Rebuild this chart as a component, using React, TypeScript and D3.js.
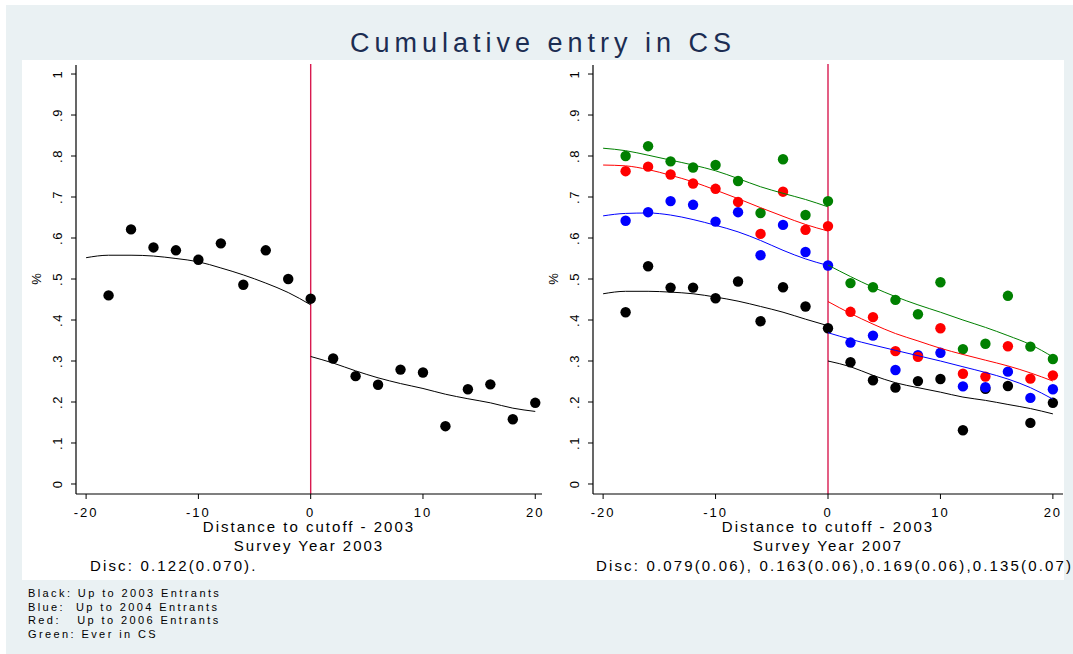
import React from "react";
import * as d3 from "d3";

const W = 1073;
const H = 654;

// Bin midpoints (distance to cutoff)
const binX = [-18, -16, -14, -12, -10, -8, -6, -4, -2, 0, 2, 4, 6, 8, 10, 12, 14, 16, 18, 20];

// Survey year 2003: share of entrants up to 2003
const left2003 = [0.46, 0.621, 0.577, 0.57, 0.547, 0.587, 0.486, 0.57, 0.5, 0.452, 0.306, 0.263, 0.242, 0.279, 0.272, 0.141, 0.231, 0.243, 0.158, 0.198];

// Survey year 2007 series
const rightBlack = [0.419, 0.531, 0.479, 0.479, 0.453, 0.494, 0.397, 0.48, 0.433, 0.38, 0.297, 0.253, 0.235, 0.251, 0.256, 0.131, 0.232, 0.239, 0.149, 0.198];
const rightBlue = [0.642, 0.663, 0.69, 0.681, 0.64, 0.663, 0.558, 0.632, 0.566, 0.533, 0.345, 0.362, 0.278, 0.314, 0.32, 0.238, 0.236, 0.274, 0.21, 0.231];
const rightRed = [0.763, 0.774, 0.755, 0.733, 0.72, 0.688, 0.61, 0.713, 0.62, 0.629, 0.42, 0.407, 0.324, 0.31, 0.38, 0.269, 0.262, 0.336, 0.257, 0.265];
const rightGreen = [0.8, 0.824, 0.787, 0.772, 0.778, 0.739, 0.661, 0.792, 0.656, 0.69, 0.49, 0.48, 0.449, 0.414, 0.492, 0.329, 0.342, 0.459, 0.335, 0.305];

// Fitted curves, evaluated on each side of the cutoff
const fitXBefore = [-20, -18, -16, -14, -12, -10, -8, -6, -4, -2, 0];
const fitXAfter = [0, 2, 4, 6, 8, 10, 12, 14, 16, 18, 20];

const leftFitBefore = [0.552, 0.558, 0.558, 0.556, 0.55, 0.542, 0.527, 0.51, 0.49, 0.467, 0.437];
const leftFitAfter = [0.311, 0.295, 0.276, 0.259, 0.245, 0.233, 0.219, 0.208, 0.198, 0.185, 0.177];

const blackFitBefore = [0.464, 0.47, 0.47, 0.468, 0.464, 0.456, 0.446, 0.433, 0.419, 0.402, 0.386];
const blackFitAfter = [0.3, 0.286, 0.265, 0.247, 0.235, 0.224, 0.212, 0.204, 0.194, 0.184, 0.171];
const blueFitBefore = [0.654, 0.66, 0.661, 0.656, 0.645, 0.631, 0.615, 0.594, 0.57, 0.549, 0.533];
const blueFitAfter = [0.369, 0.353, 0.339, 0.326, 0.313, 0.3, 0.286, 0.272, 0.256, 0.235, 0.207];
const redFitBefore = [0.778, 0.776, 0.767, 0.753, 0.737, 0.717, 0.696, 0.674, 0.653, 0.633, 0.617];
const redFitAfter = [0.445, 0.416, 0.39, 0.367, 0.349, 0.331, 0.316, 0.302, 0.288, 0.271, 0.251];
const greenFitBefore = [0.819, 0.813, 0.802, 0.79, 0.778, 0.764, 0.745, 0.725, 0.709, 0.694, 0.676];
const greenFitAfter = [0.534, 0.506, 0.48, 0.457, 0.437, 0.419, 0.4, 0.382, 0.362, 0.34, 0.31];

const xTicks = [-20, -10, 0, 10, 20];
const yTicks = [0, 0.1, 0.2, 0.3, 0.4, 0.5, 0.6, 0.7, 0.8, 0.9, 1];
const yTickLabels = ["0", ".1", ".2", ".3", ".4", ".5", ".6", ".7", ".8", ".9", "1"];

const noteLines = ["Black: Up to 2003 Entrants", "Blue:  Up to 2004 Entrants", "Red:   Up to 2006 Entrants", "Green: Ever in CS"];

const FONT = "'Liberation Sans', Arial, Helvetica, sans-serif";
const CUTOFF = "#d81a50";

type Series = { color: string; values: number[]; before: number[]; after: number[] };

const yScale = d3.scaleLinear().domain([-0.0244, 1.022]).range([494, 65]);

function Panel({
  xRange,
  xDomain,
  series,
  surveyLabel,
  discText,
  discX,
}: {
  xRange: [number, number];
  xDomain: [number, number];
  series: Series[];
  surveyLabel: string;
  discText: string;
  discX: number;
}) {
  const x = d3.scaleLinear().domain(xDomain).range(xRange);
  const y = yScale;
  const [y0, y1] = y.range();
  const ax = xRange[0];
  const line = d3
    .line<[number, number]>()
    .x((d) => x(d[0]))
    .y((d) => y(d[1]))
    .curve(d3.curveMonotoneX);
  const cx = (xRange[0] + xRange[1]) / 2;

  return (
    <g>
      {/* cutoff */}
      <line x1={x(0)} x2={x(0)} y1={y1 - 1} y2={y0} stroke={CUTOFF} strokeWidth={1.4} />

      {/* points */}
      {series.map((s, si) =>
        s.values.map((v, i) => (
          <circle key={`p${si}-${i}`} cx={x(binX[i])} cy={y(v)} r={5.2} fill={s.color} />
        ))
      )}

      {/* fitted curves */}
      {series.map((s, si) => (
        <g key={`f${si}`} fill="none" stroke={s.color} strokeWidth={1}>
          <path d={line(fitXBefore.map((fx, i) => [fx, s.before[i]] as [number, number])) || ""} />
          <path d={line(fitXAfter.map((fx, i) => [fx, s.after[i]] as [number, number])) || ""} />
        </g>
      ))}

      {/* y axis */}
      <line x1={ax} x2={ax} y1={y1} y2={y0} stroke="#000" strokeWidth={1.2} />
      {yTicks.map((t, i) => (
        <g key={`yt${i}`}>
          <line x1={ax - 5} x2={ax} y1={y(t)} y2={y(t)} stroke="#000" strokeWidth={1} />
          <text
            transform={`translate(${ax - 14},${y(t)}) rotate(-90)`}
            textAnchor="middle"
            fontSize={13}
            fontFamily={FONT}
            letterSpacing={1.5}
          >
            {yTickLabels[i]}
          </text>
        </g>
      ))}
      <text
        transform={`translate(${ax - 35},${y(0.5)}) rotate(-90)`}
        textAnchor="middle"
        fontSize={13}
        fontFamily={FONT}
      >
        %
      </text>

      {/* x axis */}
      <line x1={xRange[0]} x2={xRange[1]} y1={y0} y2={y0} stroke="#000" strokeWidth={1.2} />
      {xTicks.map((t) => (
        <g key={`xt${t}`}>
          <line x1={x(t)} x2={x(t)} y1={y0} y2={y0 + 5} stroke="#000" strokeWidth={1} />
          <text x={x(t)} y={517} textAnchor="middle" fontSize={13} fontFamily={FONT} letterSpacing={2}>
            {t}
          </text>
        </g>
      ))}
      <text x={cx} y={532} textAnchor="middle" fontSize={15} fontFamily={FONT} letterSpacing={2}>
        Distance to cutoff - 2003
      </text>
      <text x={cx} y={551} textAnchor="middle" fontSize={15} fontFamily={FONT} letterSpacing={2}>
        {surveyLabel}
      </text>
      <text x={discX} y={571} fontSize={15} fontFamily={FONT} letterSpacing={2.15}>
        {discText}
      </text>
    </g>
  );
}

export default function App() {
  const leftSeries: Series[] = [
    { color: "#000000", values: left2003, before: leftFitBefore, after: leftFitAfter },
  ];
  const rightSeries: Series[] = [
    { color: "#000000", values: rightBlack, before: blackFitBefore, after: blackFitAfter },
    { color: "#0000ff", values: rightBlue, before: blueFitBefore, after: blueFitAfter },
    { color: "#ff0000", values: rightRed, before: redFitBefore, after: redFitAfter },
    { color: "#008000", values: rightGreen, before: greenFitBefore, after: greenFitAfter },
  ];

  return (
    <div style={{ position: "fixed", left: 0, top: 0 }}>
      <svg width={W} height={H} style={{ display: "block" }}>
        <rect x={0} y={0} width={W} height={H} fill="#ffffff" />
        <rect x={6} y={5} width={W - 6} height={H - 5} fill="#eaf1f3" />
        <rect x={22} y={60} width={1042} height={520} fill="#ffffff" />

        <text
          x={543}
          y={52}
          textAnchor="middle"
          fontSize={27}
          fontFamily={FONT}
          letterSpacing={5}
          fill="#1c2d52"
        >
          Cumulative entry in CS
        </text>

        <Panel
          xRange={[76, 542]}
          xDomain={[-20.9, 20.6]}
          series={leftSeries}
          surveyLabel="Survey Year 2003"
          discText="Disc: 0.122(0.070)."
          discX={90}
        />
        <Panel
          xRange={[593, 1063]}
          xDomain={[-20.9, 20.9]}
          series={rightSeries}
          surveyLabel="Survey Year 2007"
          discText="Disc: 0.079(0.06), 0.163(0.06),0.169(0.06),0.135(0.07)"
          discX={596}
        />

        {noteLines.map((t, i) => (
          <text
            key={i}
            x={28}
            y={597 + i * 13.5}
            fontSize={11}
            fontFamily={FONT}
            letterSpacing={2.4}
            style={{ whiteSpace: "pre" }}
          >
            {t}
          </text>
        ))}
      </svg>
    </div>
  );
}
